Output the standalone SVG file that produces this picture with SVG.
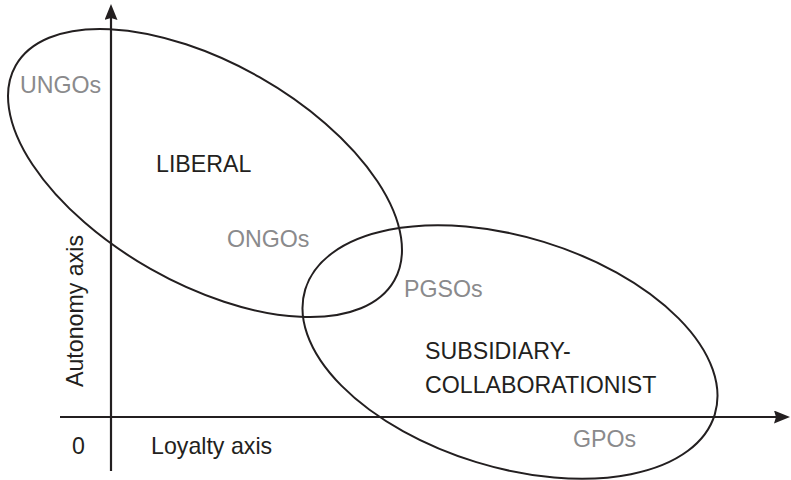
<svg xmlns="http://www.w3.org/2000/svg" width="791" height="480" viewBox="0 0 791 480">
  <style>
    .axis { stroke: #231f20; stroke-width: 2.2; fill: none; }
    .region { stroke: #231f20; stroke-width: 2; fill: none; }
    text { font-family: "Liberation Sans", Arial, Helvetica, sans-serif; font-size: 23.2px; }
    .dark { fill: #231f20; }
    .grey { fill: #8a8a8c; }
  </style>
  <defs>
    <marker id="arrow" markerUnits="userSpaceOnUse" markerWidth="18" markerHeight="14" refX="10" refY="6.5" orient="auto">
      <path d="M0,0 L16,6.5 L0,13 L2,6.5 Z" fill="#231f20"/>
    </marker>
  </defs>

  <!-- axes -->
  <g id="connectors">
    <line class="axis" x1="111" y1="471" x2="111" y2="10" marker-end="url(#arrow)"/>
    <line class="axis" x1="60" y1="417" x2="784" y2="417" marker-end="url(#arrow)"/>
  </g>

  <!-- liberal region -->
  <g id="liberal">
    <ellipse class="region" cx="0" cy="0" rx="217.7" ry="110.3" transform="translate(205,173) rotate(29.6)"/>
    <text class="dark" x="156" y="172">LIBERAL</text>
  </g>

  <!-- subsidiary-collaborationist region -->
  <g id="subsidiary">
    <ellipse class="region" cx="0" cy="0" rx="214.1" ry="115.2" transform="translate(510,352) rotate(17)"/>
    <text class="dark" x="425" y="359">SUBSIDIARY-</text>
    <text class="dark" x="425" y="393">COLLABORATIONIST</text>
  </g>

  <!-- organisation types -->
  <g id="ungos"><text class="grey" x="20" y="93">UNGOs</text></g>
  <g id="ongos"><text class="grey" x="227" y="247">ONGOs</text></g>
  <g id="pgsos"><text class="grey" x="404" y="297">PGSOs</text></g>
  <g id="gpos"><text class="grey" x="573" y="447">GPOs</text></g>

  <!-- axis labels -->
  <g id="labels">
    <text class="dark" x="72" y="454">0</text>
    <text class="dark" x="151" y="454">Loyalty axis</text>
    <text class="dark" transform="translate(83,387) rotate(-90)">Autonomy axis</text>
  </g>
</svg>
